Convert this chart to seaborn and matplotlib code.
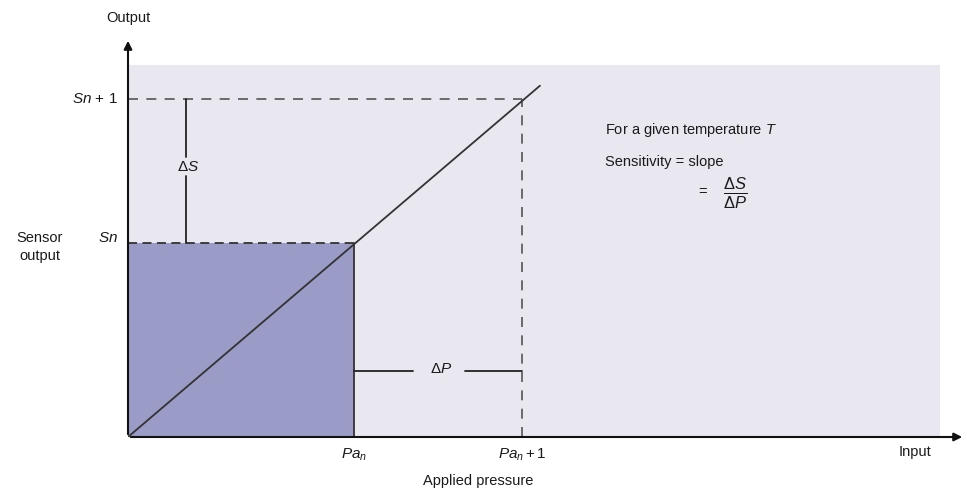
import matplotlib
matplotlib.use("Agg")
import matplotlib.pyplot as plt
import seaborn as sns
import pandas as pd
from matplotlib.patches import Rectangle

# Data (normalized units: Pa_n = 1, Sn = 1)
pressure = [0.0, 1.0, 1.743, 1.823]      # 0, Pa_n, Pa_n+1, line end
output = [0.0, 1.0, 1.742, 1.811]        # 0, Sn, Sn+1, line end
x_ticks = [1.0, 1.743]
x_tick_labels = [r"$Pa_n$", r"$Pa_n + 1$"]
y_ticks = [1.0, 1.742]
y_tick_labels = [r"$Sn$", r"$Sn$ + 1"]
bg_extent = (3.593, 1.918)

sns.set_theme(style="white")
plt.rcParams['font.family'] = ['Liberation Sans', 'DejaVu Sans']
plt.rcParams['mathtext.fontset'] = 'custom'
plt.rcParams['mathtext.rm'] = 'Liberation Sans'
plt.rcParams['mathtext.it'] = 'Liberation Sans:italic'

TXT = "#1a1a1a"
fig = plt.figure(figsize=(9.67, 4.93), dpi=100)
ax = fig.add_axes([128/967, 56/493, 837/967, 399/493])
ax.set_xlim(0, 3.704)
ax.set_ylim(0, 2.057)
for s in ax.spines.values():
    s.set_visible(False)
ax.set_xticks([]); ax.set_yticks([])
ax.patch.set_alpha(0)

# background
ax.add_patch(Rectangle((0, 0), bg_extent[0], bg_extent[1], facecolor="#e9e8f1", edgecolor="none", zorder=0))
# shaded region
ax.add_patch(Rectangle((0, 0), pressure[1], output[1], facecolor="#9a9bc6", edgecolor="none", zorder=1))
ax.plot([pressure[1], pressure[1]], [0, output[1]], color="#333333", lw=1.3, zorder=3)

# dashed guide lines
ax.plot([0, pressure[2]], [output[2], output[2]], color="#555555", lw=1.2, ls=(0, (6, 5)), zorder=2)
ax.plot([pressure[2], pressure[2]], [0, output[2]], color="#555555", lw=1.2, ls=(0, (6, 5)), zorder=2)
ax.plot([0, pressure[1]], [output[1], output[1]], color="#333333", lw=1.3, ls=(0, (5, 3)), zorder=3)

# sensor response line
df = pd.DataFrame({"pressure": [pressure[0], pressure[3]], "output": [output[0], output[3]]})
sns.lineplot(data=df, x="pressure", y="output", color="#333333", lw=1.3, ax=ax, zorder=4)
ax.set_xlabel(""); ax.set_ylabel("")

# delta S marker
xs = 0.257
ax.plot([xs, xs], [output[2], 1.444], color="#222222", lw=1.3, zorder=4)
ax.plot([xs, xs], [1.345, output[1]], color="#222222", lw=1.3, zorder=4)
ax.text(xs + 0.01, 1.39, r"$\Delta S$", ha="center", va="center", fontsize=11, color=TXT)
# delta P marker
yp = 0.34
ax.plot([pressure[1], 1.26], [yp, yp], color="#222222", lw=1.3, zorder=4)
ax.plot([1.49, pressure[2]], [yp, yp], color="#222222", lw=1.3, zorder=4)
ax.text(1.385, yp + 0.01, r"$\Delta P$", ha="center", va="center", fontsize=11, color=TXT)

# axes arrows
ax.annotate("", xy=(1.0, 0), xytext=(0, 0), xycoords="axes fraction",
            arrowprops=dict(arrowstyle="-|>", color="#111111", lw=1.5, mutation_scale=12), annotation_clip=False)
ax.annotate("", xy=(0, 1.0), xytext=(0, 0), xycoords="axes fraction",
            arrowprops=dict(arrowstyle="-|>", color="#111111", lw=1.5, mutation_scale=12), annotation_clip=False)

# tick labels
for xv, lab in zip(x_ticks, x_tick_labels):
    ax.text(xv, -0.09, lab, ha="center", va="center", fontsize=11, color=TXT, clip_on=False)
ax.text(-0.045, y_ticks[1], y_tick_labels[1], ha="right", va="center", fontsize=11, color=TXT, clip_on=False)
ax.text(-0.045, y_ticks[0] + 0.025, y_tick_labels[0], ha="right", va="center", fontsize=11, color=TXT, clip_on=False)
fig.text(40/967, 1 - 247/493, "Sensor\noutput", ha="center", va="center", fontsize=10.5,
         linespacing=1.35, color=TXT)

fig.text(128/967, 1 - 18/493, "Output", ha="center", va="center", fontsize=10.5, color=TXT)
fig.text(915/967, 1 - 452/493, "Input", ha="center", va="center", fontsize=10.5, color=TXT)
fig.text(478/967, 1 - 481/493, "Applied pressure", ha="center", va="center", fontsize=10.5, color=TXT)

# annotation text
fig.text(605/967, 1 - 130/493, r"For a given temperature $T$", ha="left", va="center", fontsize=10.5, color=TXT)
fig.text(605/967, 1 - 162/493, "Sensitivity = slope", ha="left", va="center", fontsize=10.5, color=TXT)
fig.text(703/967, 1 - 192/493, "=", ha="center", va="center", fontsize=10.5, color=TXT)
fig.text(735/967, 1 - 193/493, r"$\frac{\Delta S}{\Delta P}$", ha="center", va="center", fontsize=17, color=TXT)

fig.savefig("out.png", dpi=100, facecolor="white")
